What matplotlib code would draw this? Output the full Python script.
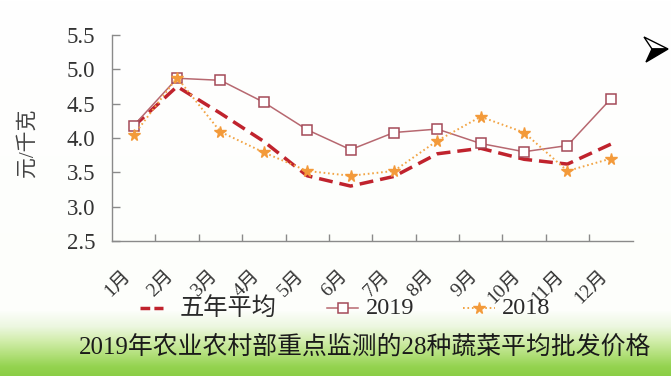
import numpy as np
import matplotlib
matplotlib.use("Agg")
import matplotlib.pyplot as plt
from matplotlib.lines import Line2D
from matplotlib.patches import Polygon

# ---------------- data ----------------
months = ["1月", "2月", "3月", "4月", "5月", "6月", "7月", "8月", "9月", "10月", "11月", "12月"]
avg5 = [4.17, 4.75, 4.36, 3.95, 3.45, 3.30, 3.44, 3.77, 3.85, 3.69, 3.62, 3.91]
y2019 = [4.18, 4.87, 4.84, 4.52, 4.12, 3.83, 4.08, 4.13, 3.92, 3.80, 3.89, 4.57]
y2018 = [4.04, 4.88, 4.09, 3.79, 3.52, 3.45, 3.52, 3.96, 4.31, 4.08, 3.52, 3.70]
yticks = [2.5, 3.0, 3.5, 4.0, 4.5, 5.0, 5.5]
ylabel = "元/千克"
legend_labels = ["五年平均", "2019", "2018"]
title = "2019年农业农村部重点监测的28种蔬菜平均批发价格"

plt.rcParams['font.family'] = ['Liberation Serif', 'Noto Sans CJK SC', 'DejaVu Sans']
plt.rcParams['lines.scale_dashes'] = False

W, H = 671, 376
fig = plt.figure(figsize=(W / 100, H / 100), dpi=100)
fig.patch.set_facecolor('white')

def fx(x):
    return x / W

def fy(y):
    return 1 - y / H

# background gradient (green strip at bottom)
bg = fig.add_axes([0, 0, 1, 1], zorder=-10)
rows = np.arange(H)
stops_y = [0, 310, 326, 340, 354, 366, 376]
stops_c = np.array([
    [255, 255, 255],
    [253, 254, 251],
    [236, 247, 224],
    [210, 237, 172],
    [178, 224, 122],
    [148, 211, 80],
    [138, 205, 68],
]) / 255.0
img = np.stack([np.interp(rows, stops_y, stops_c[:, k]) for k in range(3)], axis=-1)
img = img[:, None, :]
bg.imshow(img, aspect='auto', extent=[0, 1, 0, 1], origin='upper')
bg.set_axis_off()

# main axes
x0, x1 = 112, 632.5
ytop, ybot = 35, 241
ax = fig.add_axes([fx(x0), fy(ybot), fx(x1) - fx(x0), fy(ytop) - fy(ybot)])
ax.patch.set_alpha(0)

x = np.arange(len(months))
c_avg = '#c0232d'
c_19 = '#b76870'
c_19e = '#a44a58'
c_18 = '#f2a444'

ax.plot(x, avg5, color=c_avg, lw=2.5, linestyle=(0, (10, 5)), zorder=3)
ax.plot(x, y2019, color=c_19, lw=1.1, marker='s', ms=6.5, mfc='white',
        mec=c_19e, mew=1.1, zorder=4)
ax.plot(x, y2018, color=c_18, lw=1.4, linestyle=(0, (1.2, 2.0)), marker='*',
        ms=8.5, mfc='#f39a3a', mec='#f39a3a', zorder=5)

ax.set_xlim(-0.5, len(months) - 0.5)
ax.set_ylim(yticks[0], yticks[-1])

for s in ['top', 'right']:
    ax.spines[s].set_visible(False)
for s in ['left', 'bottom']:
    ax.spines[s].set_color('#8a8a8a')
    ax.spines[s].set_linewidth(1.0)

ax.set_yticks(yticks)
ax.set_yticklabels([f"{v:.1f}" for v in yticks])
ax.tick_params(axis='y', direction='in', length=6, width=1, color='#8a8a8a',
               labelsize=16.5, labelcolor='#333333', pad=12)

ax.set_xticks(x)
ax.set_xticklabels(months, rotation=45, ha='right', va='top')
ax.tick_params(axis='x', which='major', length=0, labelsize=14,
               labelcolor='#333333', pad=19)
ax.set_xticks(np.arange(0.5, len(months) - 1, 1), minor=True)
ax.tick_params(axis='x', which='minor', direction='in', length=5, width=1,
               color='#8a8a8a')

fig.text(fx(28), fy(143), ylabel, rotation=90, ha='center', va='center',
         fontsize=15, color='#444444')

# legend (manual)
ly = 308
fig.add_artist(Line2D([fx(140), fx(163)], [fy(ly), fy(ly)], color=c_avg, lw=2.5,
                      linestyle=(0, (7, 3))))
fig.text(fx(180), fy(ly), legend_labels[0], ha='left', va='center',
         fontsize=17.5, color='#2a2a2a')
fig.add_artist(Line2D([fx(327), fx(358)], [fy(ly), fy(ly)], color=c_19, lw=1.1))
fig.add_artist(Line2D([fx(342.5)], [fy(ly)], marker='s', ms=6.5, mfc='white',
                      mec=c_19e, mew=1.1))
fig.text(fx(366), fy(ly), legend_labels[1], ha='left', va='center',
         fontsize=17.5, color='#2a2a2a')
fig.add_artist(Line2D([fx(463), fx(495)], [fy(ly), fy(ly)], color=c_18, lw=1.4,
                      linestyle=(0, (1.2, 2.0))))
fig.add_artist(Line2D([fx(479)], [fy(ly)], marker='*', ms=8.5, mfc='#f39a3a',
                      mec='#f39a3a'))
fig.text(fx(502), fy(ly), legend_labels[2], ha='left', va='center',
         fontsize=17.5, color='#2a2a2a')

# bottom caption
fig.text(fx(365), fy(347), title, ha='center', va='center', fontsize=17.9,
         color='#1a1a1a')

# navigation arrow icon (top right)
top_half = Polygon([(fx(644), fy(37)), (fx(668), fy(49)), (fx(652), fy(49))],
                   closed=True, facecolor='white', edgecolor='black', lw=1.0,
                   transform=fig.transFigure)
bot_half = Polygon([(fx(652), fy(49)), (fx(668), fy(49)), (fx(646), fy(62))],
                   closed=True, facecolor='black', edgecolor='black', lw=1.0,
                   transform=fig.transFigure)
fig.add_artist(top_half)
fig.add_artist(bot_half)

fig.savefig('out.png', dpi=100)
